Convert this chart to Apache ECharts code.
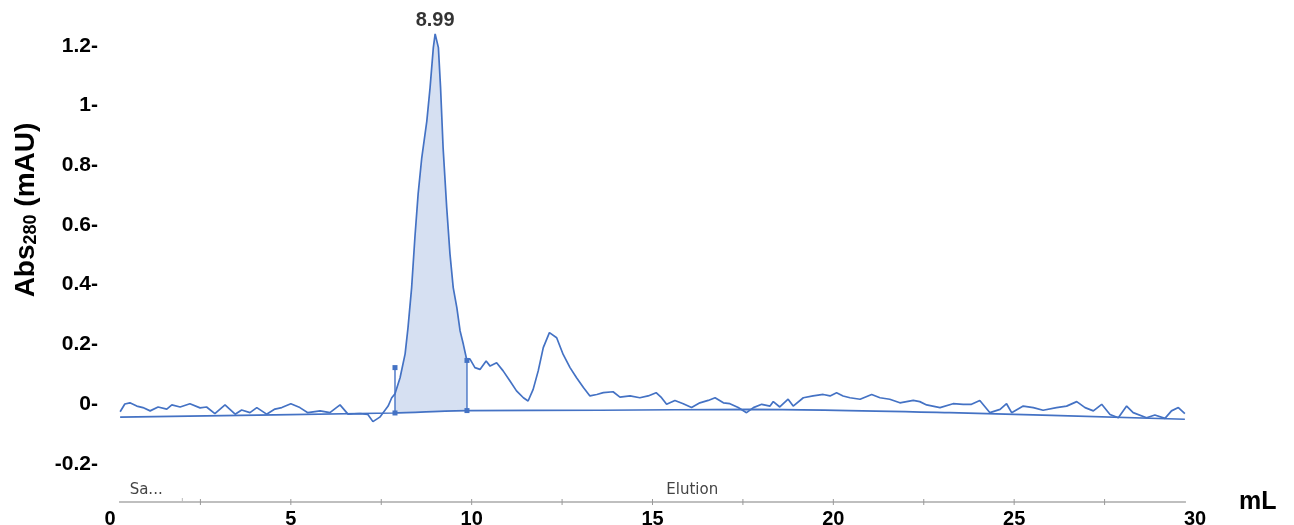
<!DOCTYPE html>
<html>
<head>
<meta charset="utf-8">
<script src="https://cdn.jsdelivr.net/npm/echarts@6/dist/echarts.min.js"></script>
<style>
html,body{margin:0;padding:0;background:#fff;}
#c{width:1294px;height:525px;}
</style>
</head>
<body>
<div id="c"></div>
<script>
// ---- data ----
const volumeML = [0.28,0.41,0.55,0.74,0.91,1.11,1.33,1.57,1.71,1.94,2.21,2.49,2.67,2.90,3.18,3.46,3.64,3.87,4.06,4.33,4.56,4.75,5.00,5.25,5.47,5.81,6.08,6.36,6.58,6.91,7.13,7.27,7.46,7.69,
7.79,7.88,8.02,8.16,8.24,8.34,8.43,8.52,8.62,8.76,8.85,8.94,8.99,9.08,9.14,9.21,9.31,9.40,9.49,9.59,9.68,9.77,9.86,9.95,10.09,10.23,10.40,10.51,10.69,10.87,11.06,11.24,11.43,11.56,11.70,11.84,11.98,12.15,12.35,12.53,12.72,12.90,13.09,13.27,
13.46,13.64,13.91,14.10,14.38,14.65,14.88,15.10,15.25,15.39,15.62,15.85,16.08,16.31,16.54,16.73,16.96,17.14,17.37,17.60,17.79,18.02,18.25,18.34,18.52,18.75,18.89,19.17,19.44,19.72,19.91,20.09,20.27,20.46,20.74,21.06,21.29,21.56,
21.84,22.21,22.39,22.58,22.95,23.31,23.59,23.82,24.05,24.33,24.61,24.79,24.93,25.25,25.53,25.80,26.17,26.45,26.73,26.96,27.19,27.42,27.65,27.88,28.11,28.29,28.66,28.89,29.17,29.35,29.54,29.72];
const absorbance = [-0.026,0.000,0.004,-0.007,-0.012,-0.023,-0.010,-0.017,-0.003,-0.010,0.001,-0.013,-0.010,-0.032,-0.003,-0.034,-0.020,-0.029,-0.012,-0.034,-0.017,-0.012,0.001,-0.012,-0.029,-0.023,-0.029,-0.003,-0.034,-0.032,-0.035,-0.059,-0.044,-0.007,
0.021,0.034,0.088,0.168,0.256,0.390,0.557,0.704,0.825,0.948,1.060,1.194,1.240,1.194,1.060,0.859,0.658,0.503,0.390,0.323,0.245,0.200,0.150,0.151,0.122,0.116,0.144,0.127,0.138,0.111,0.077,0.044,0.021,0.010,0.049,0.111,0.189,0.239,0.222,0.166,0.122,0.088,0.055,0.027,
0.032,0.038,0.041,0.023,0.027,0.021,0.027,0.038,0.021,-0.001,0.012,0.001,-0.012,0.004,0.012,0.021,0.004,0.001,-0.012,-0.029,-0.012,-0.001,-0.007,0.008,-0.010,0.016,-0.007,0.021,0.027,0.032,0.027,0.038,0.027,0.021,0.016,0.032,0.021,0.016,
0.004,0.012,0.008,-0.003,-0.012,0.001,-0.001,-0.001,0.012,-0.029,-0.018,0.001,-0.029,-0.007,-0.012,-0.021,-0.012,-0.007,0.008,-0.012,-0.023,-0.001,-0.035,-0.046,-0.007,-0.029,-0.046,-0.037,-0.048,-0.023,-0.012,-0.032];

const baseVolume = [0.28, 7.82, 9.87, 13.55, 17.69, 23.22, 29.72];
const baseAbs    = [-0.044, -0.030, -0.022, -0.021, -0.018, -0.029, -0.051];

const peakVolume = 8.99, peakAbs = 1.240, peakLabel = '8.99';
const fracMarkX      = [7.88, 9.87];
const fracMarkBottom = [-0.030, -0.022];
const fracMarkTop    = [0.122, 0.146];

const runStart = 0.25, runEnd = 29.75;
const phaseNames = ['Sa...', 'Elution'];
const phaseStart = [0.0, 2.0];
const phaseEnd   = [2.0, 30.2];

const xTickLabels = ['0','5','10','15','20','25','30'];
const yTickLabels = ['-0.2','0','0.2','0.4','0.6','0.8','1','1.2'];

// ---- build ----
const BLUE = '#4472c4';
const FONT = 'Liberation Sans, Arial';
const curve = volumeML.map((v, i) => [v, absorbance[i]]);
const baseline = baseVolume.map((v, i) => [v, baseAbs[i]]);
function baseAt(x) {
  for (let i = 0; i < baseVolume.length - 1; i++) {
    if (x >= baseVolume[i] && x <= baseVolume[i + 1]) {
      const t = (x - baseVolume[i]) / (baseVolume[i + 1] - baseVolume[i]);
      return baseAbs[i] + t * (baseAbs[i + 1] - baseAbs[i]);
    }
  }
  return baseAbs[baseAbs.length - 1];
}

const chart = echarts.init(document.getElementById('c'), null, {renderer: 'canvas'});
const LEFT = 110, RIGHT = 99;

const option = {
  animation: false,
  backgroundColor: '#fff',
  grid: [
    {left: LEFT, right: RIGHT, top: 16, height: 507.4, outerBoundsMode: 'none', containLabel: false},
    {left: LEFT, right: RIGHT, top: 480, height: 22, outerBoundsMode: 'none', containLabel: false}
  ],
  xAxis: [
    {gridIndex: 0, type: 'value', min: 0, max: 30, show: false},
    {gridIndex: 1, type: 'value', min: 0, max: 30, interval: 2.5,
     axisLine: {show: false}, axisTick: {show: false}, splitLine: {show: false},
     axisLabel: {
       margin: 7, color: '#000', fontWeight: 'bold', fontSize: 20, fontFamily: FONT,
       formatter: v => { const s = String(+v.toFixed(2)); return xTickLabels.includes(s) ? s : ''; }
     },
     name: 'mL', nameLocation: 'end', nameGap: 44,
     nameTextStyle: {color: '#000', fontWeight: 'bold', fontSize: 25, fontFamily: FONT, padding: [4, 0, 0, 0]}
    }
  ],
  yAxis: [
    {gridIndex: 0, type: 'value', min: -0.4, max: 1.3, interval: 0.2,
     axisLine: {show: false}, axisTick: {show: false}, splitLine: {show: false},
     axisLabel: {
       margin: 12, color: '#000', fontWeight: 'bold', fontSize: 21, fontFamily: FONT,
       formatter: v => { const s = String(+v.toFixed(1)); return yTickLabels.includes(s) ? s + '-' : ''; }
     }
    },
    {gridIndex: 1, type: 'value', min: 0, max: 1, show: false}
  ],
  graphic: [{
    type: 'text', x: 26, y: 210, rotation: Math.PI / 2,
    style: {
      text: '{b|Abs}{s|280}{b| (mAU)}',
      align: 'center', verticalAlign: 'middle',
      rich: {
        b: {fontSize: 28, fontWeight: 'bold', fill: '#000', fontFamily: FONT, lineHeight: 31},
        s: {fontSize: 18, fontWeight: 'bold', fill: '#000', fontFamily: FONT, lineHeight: 31, padding: [11, 0, 0, 0]}
      }
    }
  }],
  series: [
    { // integrated peak area
      type: 'custom', xAxisIndex: 0, yAxisIndex: 0, data: [0], silent: true, z: 1,
      renderItem: (params, api) => {
        const pts = [];
        curve.forEach(p => { if (p[0] >= fracMarkX[0] && p[0] <= fracMarkX[1]) pts.push(api.coord(p)); });
        const last = curve.filter(p => p[0] <= fracMarkX[1]).pop();
        pts.push(api.coord([last[0], baseAt(last[0])]));
        pts.push(api.coord([fracMarkX[0], baseAt(fracMarkX[0])]));
        return {type: 'polygon', shape: {points: pts}, style: {fill: 'rgba(68,114,196,0.22)', stroke: null}};
      }
    },
    {
      type: 'line', xAxisIndex: 0, yAxisIndex: 0, data: baseline, smooth: 0.3,
      showSymbol: false, lineStyle: {color: BLUE, width: 1.6}, z: 2, silent: true
    },
    {
      type: 'line', xAxisIndex: 0, yAxisIndex: 0, data: curve, smooth: false,
      showSymbol: false, lineStyle: {color: BLUE, width: 1.7}, z: 3, silent: true
    },
    ...fracMarkX.map((x, i) => ({
      type: 'line', xAxisIndex: 0, yAxisIndex: 0,
      data: [[x, fracMarkBottom[i]], [x, fracMarkTop[i]]],
      symbol: 'rect', symbolSize: 5, showSymbol: true,
      itemStyle: {color: BLUE}, lineStyle: {color: BLUE, width: 1.4}, z: 4, silent: true
    })),
    {
      type: 'scatter', xAxisIndex: 0, yAxisIndex: 0, data: [[peakVolume, peakAbs]],
      symbolSize: 1, itemStyle: {color: 'rgba(0,0,0,0)'}, silent: true,
      label: {show: true, position: 'top', distance: 3, formatter: peakLabel,
              color: '#000', fontWeight: 'bold', fontSize: 20, fontFamily: FONT}
    },
    { // run-phase strip
      type: 'custom', xAxisIndex: 1, yAxisIndex: 1, data: [0], silent: true,
      renderItem: (params, api) => {
        const children = [];
        const s = api.coord([runStart, 0]);
        const e = api.coord([runEnd, 0]);
        children.push({type: 'line', shape: {x1: s[0], y1: s[1], x2: e[0], y2: e[1]},
                       style: {stroke: '#aaaaaa', lineWidth: 1.5}});
        for (let k = 1; k * 2.5 < runEnd; k++) {
          const c = api.coord([k * 2.5, 0]);
          children.push({type: 'line', shape: {x1: c[0], y1: c[1] - 3, x2: c[0], y2: c[1] + 3},
                         style: {stroke: '#999999', lineWidth: 1}});
        }
        phaseNames.forEach((n, i) => {
          if (i > 0) {
            const b = api.coord([phaseStart[i], 0]);
            children.push({type: 'line', shape: {x1: b[0], y1: b[1] - 4, x2: b[0], y2: b[1]},
                           style: {stroke: '#bbbbbb', lineWidth: 1}});
          }
          const c = api.coord([(phaseStart[i] + phaseEnd[i]) / 2, 0]);
          children.push({type: 'text', x: c[0], y: c[1] - 12,
                         style: {text: n, align: 'center', verticalAlign: 'middle', fill: '#444',
                                 fontSize: 15, fontFamily: 'DejaVu Sans, Verdana'}});
        });
        return {type: 'group', children};
      }
    }
  ]
};
chart.setOption(option);
</script>
</body>
</html>
